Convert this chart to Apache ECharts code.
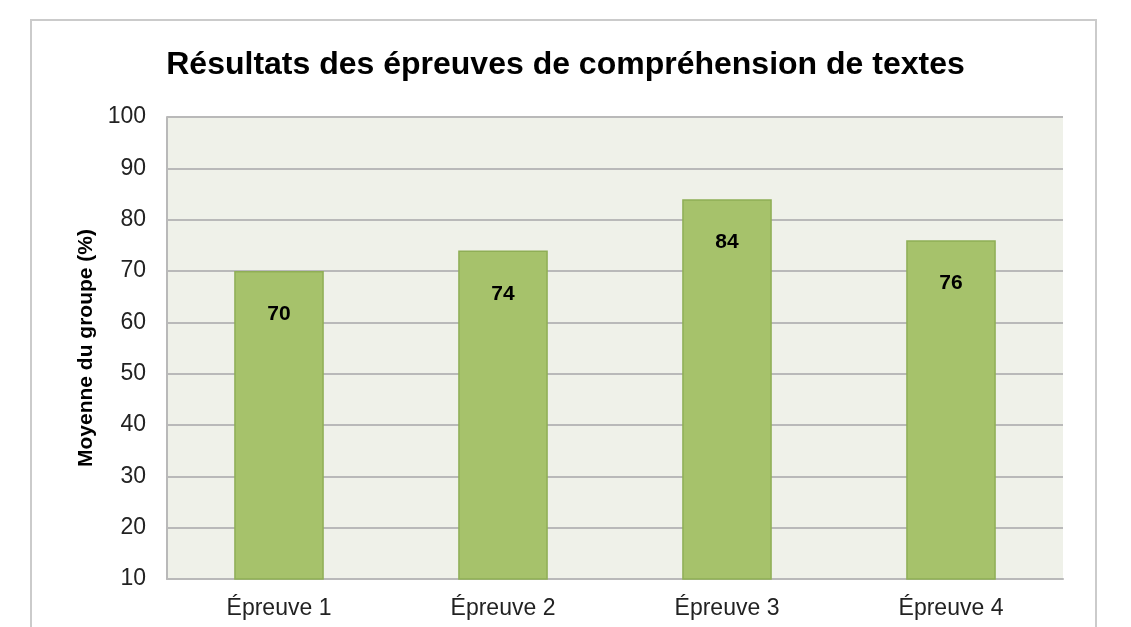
<!DOCTYPE html>
<html><head><meta charset="utf-8">
<script src="https://cdn.jsdelivr.net/npm/echarts@6/dist/echarts.min.js"></script>
<style>html,body{margin:0;padding:0;background:#fff}#c{width:1131px;height:627px}</style>
</head><body><div id="c"></div>
<script>
const categories = ['Épreuve 1', 'Épreuve 2', 'Épreuve 3', 'Épreuve 4'];
const values = [70, 74, 84, 76];
const titleText = 'Résultats des épreuves de compréhension de textes';
const yAxisName = 'Moyenne du groupe (%)';

const chart = echarts.init(document.getElementById('c'), null, {renderer: 'canvas'});
const F = '"Liberation Sans", Arial, sans-serif';
chart.setOption({
  animation: false,
  backgroundColor: '#fff',
  title: {
    text: titleText, left: 'center', top: 44,
    textStyle: {fontFamily: F, fontSize: 32, fontWeight: 'bold', color: '#000'}
  },
  graphic: [{
    type: 'rect', shape: {x: 31, y: 20, width: 1065, height: 640},
    style: {fill: 'none', stroke: '#cbcbcb', lineWidth: 2}, z: -1
  }],
  grid: {left: 167, right: 68, top: 117, bottom: 48, show: true, backgroundColor: '#eff1e9', borderWidth: 0},
  xAxis: {
    type: 'category', data: categories,
    axisLine: {lineStyle: {color: '#b9b9b9', width: 2}},
    axisTick: {show: false},
    axisLabel: {fontFamily: F, fontSize: 23, color: '#222', margin: 18}
  },
  yAxis: {
    type: 'value', min: 10, max: 100, interval: 10,
    name: yAxisName, nameLocation: 'middle', nameGap: 70,
    nameTextStyle: {fontFamily: F, fontSize: 21, fontWeight: 'bold', color: '#000'},
    axisLine: {show: true, lineStyle: {color: '#b9b9b9', width: 2}},
    axisTick: {show: false},
    axisLabel: {fontFamily: F, fontSize: 23, color: '#222', margin: 21},
    splitLine: {lineStyle: {color: '#b9b9b9', width: 2}}
  },
  series: [{
    type: 'bar', data: values, barWidth: '40%',
    itemStyle: {color: '#a6c26b', borderColor: '#8fae56', borderWidth: 1.5},
    label: {show: true, position: 'insideTop', distance: 33,
      fontFamily: F, fontSize: 21, fontWeight: 'bold', color: '#000'}
  }]
});
</script></body></html>
